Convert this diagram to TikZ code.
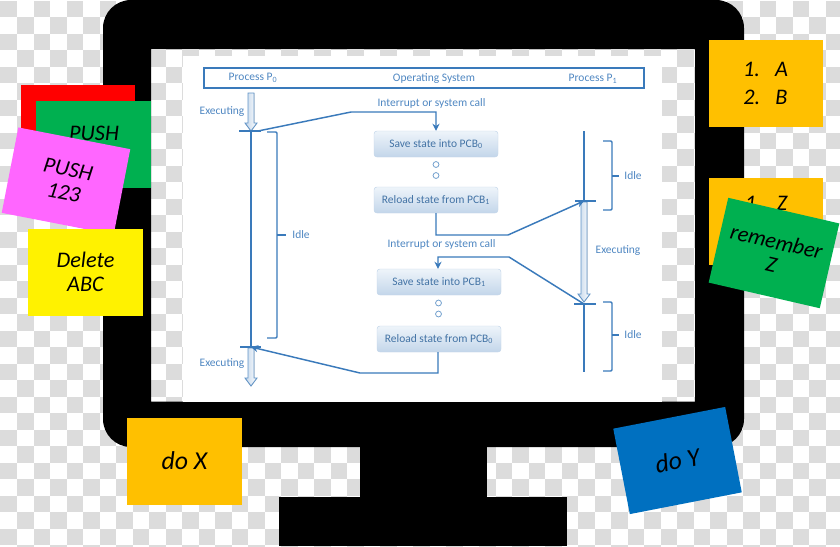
\documentclass[tikz,border=0pt]{standalone}
\usepackage{fontspec}
\usepackage{xcolor}
\usepackage{tikz}
\usetikzlibrary{arrows.meta}
\setmainfont{Carlito}
\definecolor{checkgray}{HTML}{DCDCDC}
\definecolor{linkblue}{HTML}{3A7ABB}
\definecolor{labelblue}{HTML}{4F87C2}
\definecolor{boxtop}{HTML}{EEF4FA}
\definecolor{boxbot}{HTML}{C3D6EA}
\definecolor{noteamber}{HTML}{FFC000}
\definecolor{notegreen}{HTML}{00B050}
\definecolor{notepink}{HTML}{FF66FF}
\definecolor{noteblue}{HTML}{0070C0}
\tikzset{
  hand/.style={inner sep=0pt,align=center,font=\fontsize{19}{20}\selectfont\itshape},
  note/.style={hand,minimum width=3.42cm,minimum height=2.61cm},
  link/.style={draw=linkblue,line width=1.25pt},
  linkarrow/.style={link,-{Stealth[length=6pt,width=6pt]}},
  pcbbox/.style={draw=boxbot,rounded corners=2.5pt,top color=boxtop,bottom color=boxbot,
    minimum width=3.72cm,minimum height=0.78cm,inner sep=0pt,text=labelblue!85!black,
    font=\fontsize{9.8}{11}\selectfont},
  difflabel/.style={text=labelblue,inner sep=0pt,font=\fontsize{9.8}{11}\selectfont},
  dot/.style={circle,draw=linkblue!70,line width=0.7pt,minimum size=5pt,inner sep=0pt},
  hollowarrow/.style={draw=linkblue!80,line width=0.7pt,left color=boxbot,right color=white},
}
\begin{document}
\begin{tikzpicture}[x=0.03cm,y=-0.03cm]
  \useasboundingbox (0,0) rectangle (840,546);
  % checker background, 16.5 px cells
  \fill[white] (0,0) rectangle (840,546);
  \begin{scope}
    \clip (0,0) rectangle (840,546);
    \foreach \i in {0,...,50}{
      \foreach \j in {0,...,33}{
        \pgfmathparse{int(mod(\i+\j,2))}
        \ifnum\pgfmathresult=0
          \fill[checkgray] ({\i*16.5+0.5},{\j*16.5+0.8}) rectangle ++(16.5,16.5);
        \fi
      }
    }
  \end{scope}
  % monitor: frame with a hole for the screen, then the stand
  \fill[black,even odd rule] [rounded corners=0.84cm] (103,0) rectangle (744,447)
    [sharp corners] (151,49) rectangle (695,401.5);
  \fill[black] (360,440) rectangle (487,497);
  \fill[black] (279,497) rectangle (567,546);
  % diagram sheet on the screen
  \fill[white] (183,56) rectangle (662,401.5);
  \node[draw=linkblue,line width=1.3pt,minimum width=13.2cm,minimum height=0.6cm,inner sep=0pt] (header) at (424,78) {};
  \node[difflabel] (procA) at (253,78) {Process P\textsubscript{0}};
  \node[difflabel] (opsys) at (434,79) {Operating System};
  \node[difflabel] (procB) at (593,79) {Process P\textsubscript{1}};
  % hollow executing arrows
  \foreach \xx/\ya/\yb in {251/93/131, 251/348/386, 584/202/302}{
    \filldraw[hollowarrow] (\xx-3,\ya) -- (\xx+3,\ya) -- (\xx+3,\yb-8) -- (\xx+6,\yb-8)
      -- (\xx,\yb) -- (\xx-6,\yb-8) -- (\xx-3,\yb-8) -- cycle;
  }
  % time lines with their ticks
  \coordinate (tickAl) at (239,131);
  \coordinate (tickAr) at (261,131);
  \coordinate (tickAm) at (251,131);
  \coordinate (tickBl) at (240,347);
  \coordinate (tickBr) at (261,347);
  \coordinate (tickBm) at (251,347);
  \coordinate (tickCl) at (575,201);
  \coordinate (tickCr) at (596,201);
  \coordinate (tickCm) at (584,201);
  \coordinate (tickDl) at (574,304);
  \coordinate (tickDr) at (596,304);
  \coordinate (tickDm) at (584,304);
  \coordinate (lineCtop) at (584,131);
  \coordinate (lineDend) at (584,372);
  \foreach \a in {A,B,C,D}{
    \draw[link] (tick\a l) -- (tick\a r);
  }
  \draw[link] (tickAm) -- (tickBm);
  \draw[link] (lineCtop) -- (tickCm);
  \draw[link] (tickDm) -- (lineDend);
  % brackets and their labels
  \node[difflabel] (idleA) at (301,235) {Idle};
  \node[difflabel] (idleB) at (633,176) {Idle};
  \node[difflabel] (idleC) at (633,335) {Idle};
  \draw[link,rounded corners=1pt] (267,132) -- (277,132) -- (277,338) -- (267,338);
  \draw[link] (277,235) -- (286,235);
  \draw[link,rounded corners=1pt] (603,141) -- (612,141) -- (612,210) -- (603,210);
  \draw[link] (612,176) -- (619,176);
  \draw[link,rounded corners=1pt] (603,302) -- (612,302) -- (612,371) -- (603,371);
  \draw[link] (612,335) -- (619,335);
  \node[difflabel] (execA) at (222,112) {Executing};
  \node[difflabel] (execB) at (222,364) {Executing};
  \node[difflabel] (execC) at (618,251) {Executing};
  % save and reload boxes
  \node[pcbbox] (saveA) at (436,144) {Save state into PCB\textsubscript{0}};
  \node[pcbbox] (reloadB) at (436,200) {Reload state from PCB\textsubscript{1}};
  \node[pcbbox] (saveB) at (439,282) {Save state into PCB\textsubscript{1}};
  \node[pcbbox] (reloadA) at (439,339) {Reload state from PCB\textsubscript{0}};
  \foreach \n/\xx/\yy in {dotA/436/164.5, dotB/436/175.5, dotC/438.5/303, dotD/438.5/314}{
    \node[dot] (\n) at (\xx,\yy) {};
  }
  % switch connectors
  \node[difflabel] (irqA) at (431.5,103) {Interrupt or system call};
  \node[difflabel] (irqB) at (441.5,244) {Interrupt or system call};
  \coordinate (kneeA) at (351,112);
  \coordinate (kneeB) at (436,112);
  \coordinate (kneeC) at (436,235);
  \coordinate (kneeD) at (508,235);
  \coordinate (kneeE) at (509,257);
  \coordinate (kneeF) at (438,257);
  \coordinate (kneeG) at (438,373);
  \coordinate (kneeH) at (360,373);
  \draw[linkarrow] (tickAm) ++(7,0) -- (kneeA) -- (kneeB) -- (saveA.north -| kneeB);
  \draw[linkarrow] (reloadB.south) -- (kneeC) -- (kneeD) -- (tickCm);
  \draw[linkarrow] (tickDm) -- (kneeE) -- (kneeF) -- (saveB.north -| kneeF);
  \draw[linkarrow] (reloadA.south -| kneeG) -- (kneeG) -- (kneeH) -- (tickBm);
  % sticky notes, back to front
  \fill[red] (21,85) rectangle (135,175);
  \node[note,fill=notegreen] (notePush) at (93.5,144.5) {};
  \node[hand] (textPush) at (94,133) {PUSH};
  \node[note,fill=notepink,rotate=-11] (notePink) at (66,181) {PUSH\\123};
  \node[note,fill=yellow] (noteDelete) at (85.5,272) {Delete\\ABC};
  \node[note,fill=noteamber] (noteList) at (765.5,83.5) {1.\ \ \ A\\[4pt]2.\ \ \ B};
  \node[note,fill=noteamber] (noteBack) at (766,221) {};
  \node[hand] (textBack) at (766,203) {1.\ \ \ Z};
  \node[note,fill=notegreen,rotate=-13] (noteRemember) at (774,253) {remember\\Z};
  \node[note,fill=noteamber,font=\fontsize{22}{20}\selectfont\itshape] (noteX) at (184.5,461) {do X};
  \node[note,fill=noteblue,rotate=11,font=\fontsize{22}{20}\selectfont\itshape] (noteY) at (677.5,460.5) {do Y};
\end{tikzpicture}
\end{document}
